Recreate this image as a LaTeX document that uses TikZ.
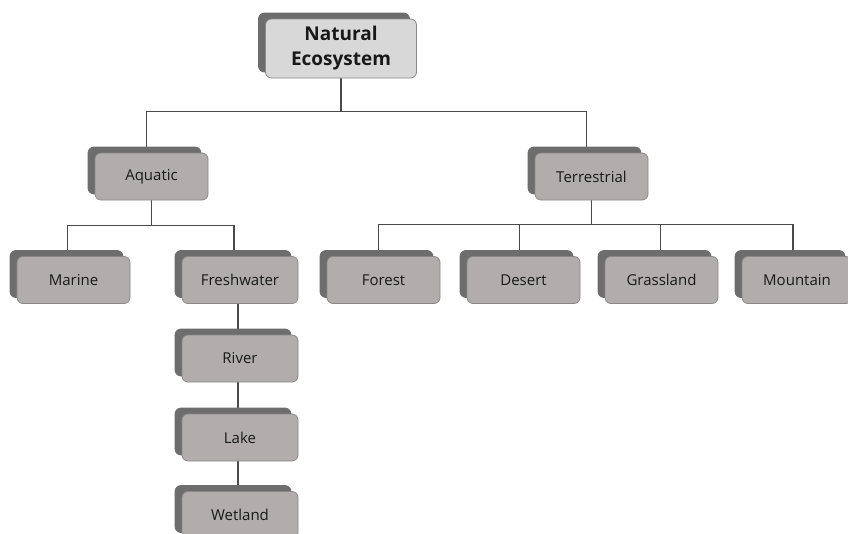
\documentclass[tikz,border=0pt]{standalone}
\usepackage{fontspec}
\setmainfont{Open Sans}
\usetikzlibrary{shadows,backgrounds}
\definecolor{frontgray}{HTML}{B1ADAD}
\definecolor{topgray}{HTML}{D9D8D8}
\definecolor{backgray}{HTML}{6E6D6D}
\definecolor{edgegray}{HTML}{8A8888}
\definecolor{linegray}{HTML}{4A4A4A}
\tikzset{
  ebox/.style={draw=edgegray, line width=0.8pt, fill=frontgray, rounded corners=6pt,
    minimum width=113pt, minimum height=47pt, inner sep=0pt,
    font=\fontsize{15}{18}\selectfont, text=black!90,
    copy shadow={shadow xshift=-7pt, shadow yshift=6pt, fill=backgray, draw=backgray}},
  topbox/.style={ebox, fill=topgray, minimum width=151pt, minimum height=59pt,
    font=\fontsize{19}{22}\selectfont\bfseries, align=center},
  conn/.style={draw=linegray, line width=1.1pt}
}
\begin{document}
\begin{tikzpicture}[x=1pt,y=-1pt]
\useasboundingbox (0,0) rectangle (848,533);
\node[topbox] (nat) at (341,48.5) {Natural\\[3pt]Ecosystem};
\node[ebox] (aq) at (151.5,176.5) {Aquatic};
\node[ebox] (ter) at (591.5,176.5) {Terrestrial};
\node[ebox] (mar) at (73.5,280) {Marine};
\node[ebox, minimum width=116pt] (fw) at (240,280) {Freshwater};
\node[ebox] (for) at (383.5,280) {Forest};
\node[ebox] (des) at (523.5,280) {Desert};
\node[ebox] (gra) at (661.5,280) {Grassland};
\node[ebox, minimum width=110pt] (mou) at (797,280) {Mountain};
\node[ebox, minimum width=116pt] (riv) at (240,358.5) {River};
\node[ebox, minimum width=116pt] (lak) at (240,437.5) {Lake};
\node[ebox, minimum width=116pt] (wet) at (240,515) {Wetland};
\begin{scope}[on background layer]
\draw[conn] (nat.south) -- ++(0,33) coordinate (j1)
  (j1) -| ([xshift=-5pt]aq.north)
  (j1) -| ([xshift=-5pt]ter.north);
\draw[conn] (aq.south) -- ++(0,25) coordinate (j2)
  (j2) -| ([xshift=-6pt]mar.north)
  (j2) -| ([xshift=-6pt]fw.north);
\draw[conn] (ter.south) -- ++(0,24) coordinate (j3)
  (j3) -| ([xshift=-5pt]for.north)
  (j3) -| ([xshift=-4pt]des.north)
  (j3) -| ([xshift=-1pt]gra.north)
  (j3) -| ([xshift=-4pt]mou.north);
\draw[conn] ([xshift=-2pt]fw.south) -- ([xshift=-2pt]riv.north);
\draw[conn] ([xshift=-2pt]riv.south) -- ([xshift=-2pt]lak.north);
\draw[conn] ([xshift=-2pt]lak.south) -- ([xshift=-2pt]wet.north);
\end{scope}
\end{tikzpicture}
\end{document}
